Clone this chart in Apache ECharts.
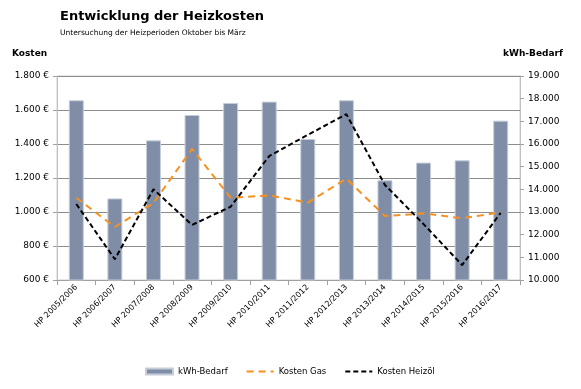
<!DOCTYPE html>
<html><head><meta charset="utf-8">
<script src="https://cdn.jsdelivr.net/npm/echarts@6/dist/echarts.min.js"></script>
<style>html,body{margin:0;padding:0;background:#fff}#c{width:581px;height:389px}</style>
</head><body><div id="c"></div>
<script>
const categories = ['HP 2005/2006','HP 2006/2007','HP 2007/2008','HP 2008/2009','HP 2009/2010','HP 2010/2011','HP 2011/2012','HP 2012/2013','HP 2013/2014','HP 2014/2015','HP 2015/2016','HP 2016/2017'];
const kwhBedarf = [17930, 13600, 16160, 17280, 17810, 17870, 16220, 17930, 14400, 15180, 15280, 17030];
const kostenGas = [1084, 912, 1053, 1371, 1084, 1098, 1055, 1196, 976, 992, 963, 998];
const kostenHeizoel = [1047, 722, 1134, 924, 1031, 1329, 1454, 1575, 1159, 929, 688, 995];
const leftTicks = {min: 600, max: 1800, interval: 200};
const rightTicks = {min: 10000, max: 19000, interval: 1000};

const font = 'DejaVu Sans, Verdana, sans-serif';
function fmt(v){ return String(v).replace(/\B(?=(\d{3})+(?!\d))/g, '.'); }

const chart = echarts.init(document.getElementById('c'));
chart.setOption({
  animation: false,
  textStyle: {fontFamily: font},
  title: [
    {text: 'Entwicklung der Heizkosten', left: 55, top: 5, textStyle: {fontSize: 13, fontWeight: 'bold', color: '#000', fontFamily: font}},
    {text: 'Untersuchung der Heizperioden Oktober bis März', left: 55, top: 24, textStyle: {fontSize: 7.5, fontWeight: 'normal', color: '#000', fontFamily: font}},
    {text: 'Kosten', left: 7, top: 44, textStyle: {fontSize: 9, fontWeight: 'bold', color: '#000', fontFamily: font}},
    {text: 'kWh-Bedarf', left: 498, top: 44, textStyle: {fontSize: 9, fontWeight: 'bold', color: '#000', fontFamily: font}}
  ],
  grid: {left: 57, right: 61, top: 76, bottom: 109, show: true, borderColor: '#d0d0d0', borderWidth: 1},
  legend: {
    bottom: 8, left: 140, itemGap: 18, itemWidth: 27, itemHeight: 6,
    textStyle: {fontSize: 8.5, color: '#000', fontFamily: font},
    data: [
      {name: 'kWh-Bedarf', icon: 'rect'},
      {name: 'Kosten Gas', itemStyle: {opacity: 0}},
      {name: 'Kosten Heizöl', itemStyle: {opacity: 0}}
    ]
  },
  xAxis: {
    type: 'category', data: categories,
    axisLine: {lineStyle: {color: '#a0a0a0'}},
    axisTick: {show: true, lineStyle: {color: '#a0a0a0'}},
    axisLabel: {rotate: 45, fontSize: 8, color: '#000', margin: 6, interval: 0}
  },
  yAxis: [
    {type: 'value', min: leftTicks.min, max: leftTicks.max, interval: leftTicks.interval,
     axisLine: {show: true, lineStyle: {color: '#c0c0c0'}},
     axisTick: {show: true, inside: false, length: 4, lineStyle: {color: '#a0a0a0'}},
     splitLine: {lineStyle: {color: '#8c8c8c', width: 1}},
     axisLabel: {fontSize: 9, color: '#000', margin: 8, formatter: v => fmt(v) + ' €'}},
    {type: 'value', min: rightTicks.min, max: rightTicks.max, interval: rightTicks.interval,
     position: 'right',
     axisLine: {show: true, lineStyle: {color: '#c0c0c0'}},
     axisTick: {show: true, length: 4, lineStyle: {color: '#a0a0a0'}},
     splitLine: {show: false},
     axisLabel: {fontSize: 9, color: '#000', margin: 8, formatter: v => fmt(v)}}
  ],
  series: [
    {name: 'kWh-Bedarf', type: 'bar', yAxisIndex: 1, data: kwhBedarf, barWidth: 15,
     itemStyle: {color: '#7f8ea6', borderColor: '#c5cdd9', borderWidth: 1}, z: 1},
    {name: 'Kosten Gas', type: 'line', yAxisIndex: 0, data: kostenGas, symbol: 'none',
     lineStyle: {color: '#f7901e', width: 2, type: [7, 5]}, itemStyle: {color: '#f7901e'}, z: 3},
    {name: 'Kosten Heizöl', type: 'line', yAxisIndex: 0, data: kostenHeizoel, symbol: 'none',
     lineStyle: {color: '#000', width: 2, type: [5, 3]}, itemStyle: {color: '#000'}, z: 4}
  ]
});
</script></body></html>
